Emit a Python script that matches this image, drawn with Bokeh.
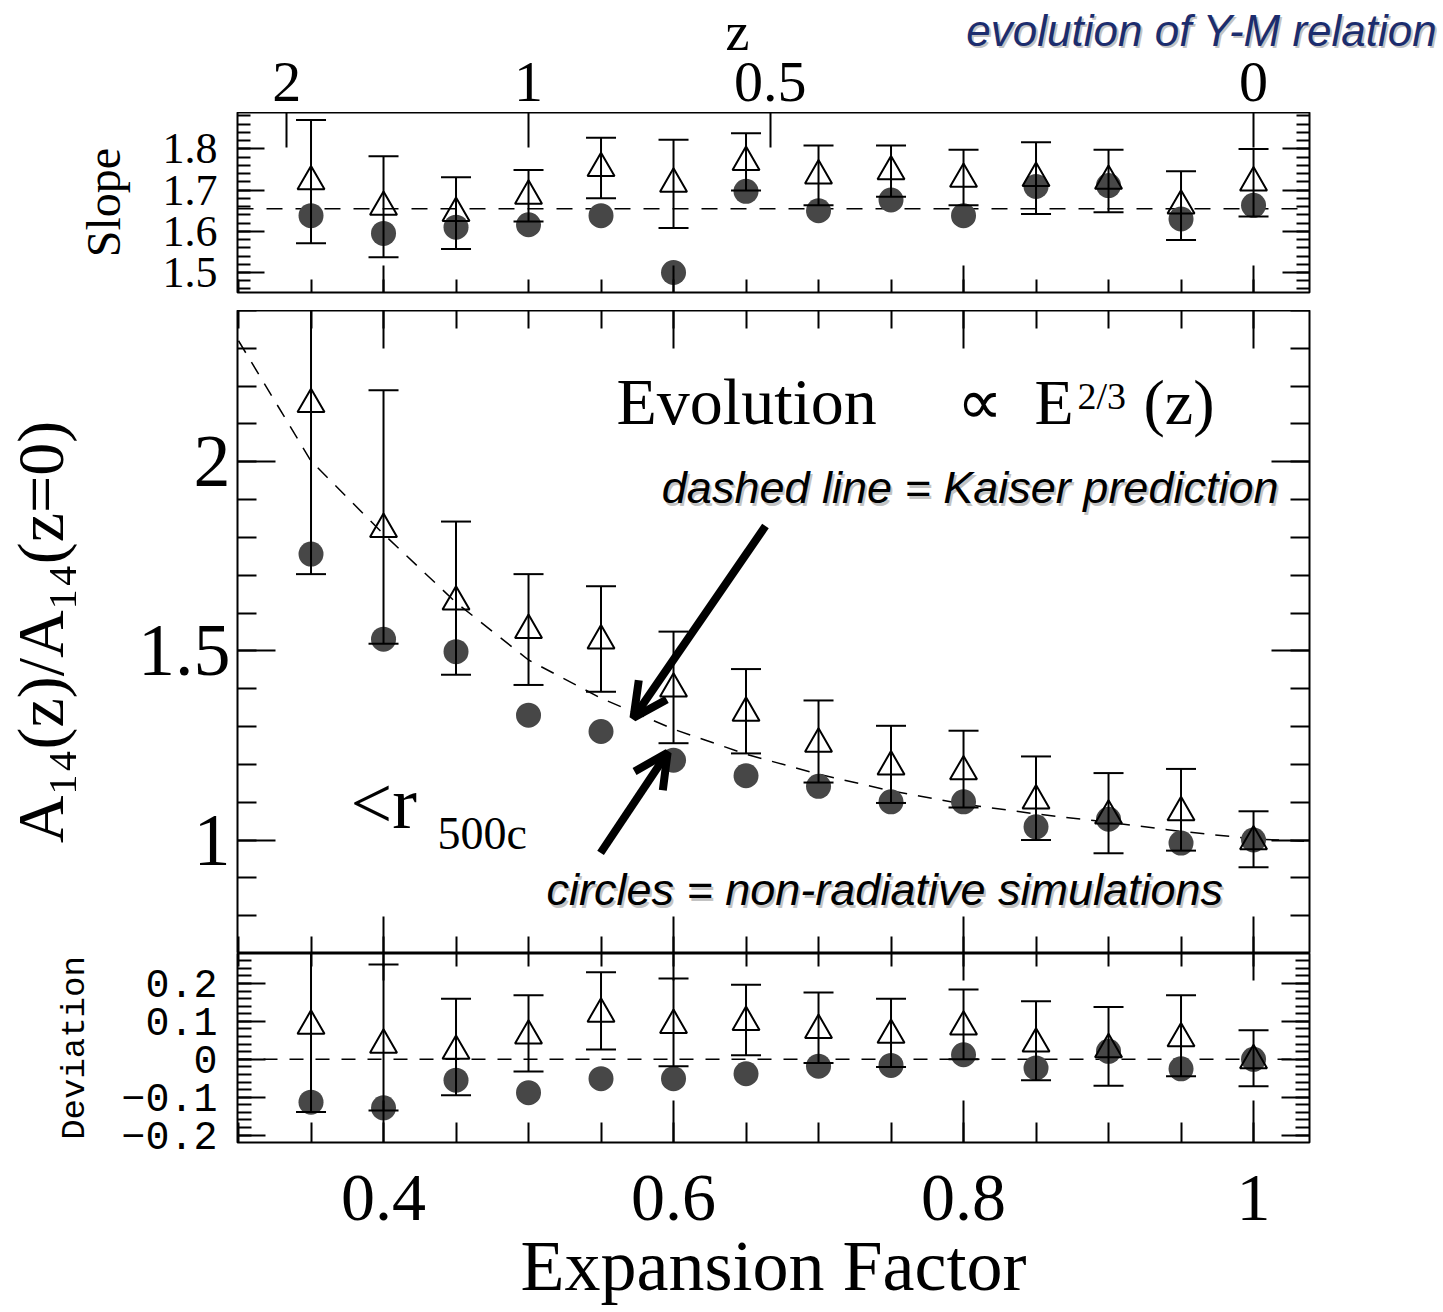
import numpy as np
from bokeh.plotting import figure
from bokeh.layouts import column, row
from bokeh.core.properties import value
from bokeh.models import (Range1d, LinearAxis, FixedTicker, CustomJSTickFormatter,
                          Label, Arrow, OpenHead, Span)
from bokeh.embed import file_html
from bokeh.resources import INLINE

# ------------------------------------------------------------------ data
a = [0.35, 0.40, 0.45, 0.50, 0.55, 0.60, 0.65, 0.70, 0.75, 0.80, 0.85, 0.90, 0.95, 1.00]

# slope panel
slope_circ = [1.638, 1.595, 1.610, 1.616, 1.638, 1.500, 1.697, 1.650, 1.676, 1.638, 1.709, 1.711, 1.630, 1.663]
slope_tri = [1.721, 1.659, 1.644, 1.686, 1.753, 1.715, 1.768, 1.735, 1.745, 1.727, 1.729, 1.722, 1.662, 1.718]
slope_tri_hi = [1.870, 1.782, 1.731, 1.749, 1.827, 1.822, 1.838, 1.808, 1.808, 1.798, 1.816, 1.798, 1.746, 1.800]
slope_tri_lo = [1.571, 1.537, 1.557, 1.624, 1.680, 1.608, 1.699, 1.663, 1.684, 1.663, 1.642, 1.646, 1.579, 1.636]
slope_ref = 1.655

# normalisation panel  A14(z)/A14(z=0)
ratio_circ = [1.756, 1.531, 1.498, 1.330, 1.287, 1.211, 1.170, 1.142, 1.101, 1.101, 1.035, 1.055, 0.992, 1.000]
ratio_tri = [2.152, 1.822, 1.630, 1.555, 1.527, 1.400, 1.336, 1.254, 1.194, 1.181, 1.104, 1.064, 1.073, 0.996]
ratio_tri_hi = [2.600, 2.189, 1.842, 1.703, 1.671, 1.551, 1.452, 1.369, 1.302, 1.289, 1.221, 1.177, 1.188, 1.076]
ratio_tri_lo = [1.703, 1.519, 1.437, 1.410, 1.392, 1.256, 1.229, 1.152, 1.098, 1.086, 1.000, 0.965, 0.972, 0.928]

# Kaiser prediction (dashed)
kaiser_a = [0.30, 0.35, 0.40, 0.45, 0.50, 0.55, 0.60, 0.65, 0.70, 0.75, 0.80, 0.85, 0.90, 0.95, 1.00, 1.04]
kaiser_ratio = [2.320, 2.002, 1.809, 1.628, 1.476, 1.375, 1.293, 1.227, 1.174, 1.130, 1.095, 1.069, 1.047, 1.023, 1.003, 0.996]

# deviation panel
dev_circ = [-0.113, -0.128, -0.055, -0.088, -0.051, -0.051, -0.038, -0.018, -0.016, 0.012, -0.023, 0.021, -0.025, 0.000]
dev_tri = [0.088, 0.038, 0.022, 0.062, 0.120, 0.090, 0.098, 0.077, 0.064, 0.086, 0.041, 0.026, 0.055, -0.003]
dev_tri_hi = [0.315, 0.250, 0.160, 0.169, 0.230, 0.213, 0.197, 0.176, 0.160, 0.184, 0.153, 0.138, 0.169, 0.077]
dev_tri_lo = [-0.139, -0.135, -0.095, -0.032, 0.026, -0.018, 0.011, -0.010, -0.020, 0.000, -0.055, -0.070, -0.045, -0.071]
dev_ref = 0.0

# ticks / labels
x_ticks = [0.4, 0.6, 0.8, 1.0]
x_labels = ["0.4", "0.6", "0.8", "1"]
x_minor = [round(0.30 + 0.05 * i, 2) for i in range(15)]
z_values = [2, 1, 0.5, 0]
z_labels = ["2", "1", "0.5", "0"]
z_ticks = [1.0 / (1.0 + z) for z in z_values]
slope_ticks = [1.5, 1.6, 1.7, 1.8]
slope_labels = ["1.5", "1.6", "1.7", "1.8"]
slope_minor = [round(1.46 + 0.02 * i, 2) for i in range(22)]
ratio_ticks = [1.0, 1.5, 2.0]
ratio_labels = ["1", "1.5", "2"]
ratio_minor = [round(0.7 + 0.1 * i, 1) for i in range(18)]
dev_ticks = [-0.2, -0.1, 0.0, 0.1, 0.2]
dev_labels = ["\u22120.2", "\u22120.1", "0", "0.1", "0.2"]
dev_minor = [round(-0.22 + 0.02 * i, 2) for i in range(26)]

# ------------------------------------------------------------------ style
SERIF = "Liberation Serif"
MONO = "Liberation Mono"
SANS = "Liberation Sans"
CIRC_COLOR = "#474747"
NAVY = "#1c2d6e"

X0, X1 = 0.2993, 1.0386          # frame range of the expansion-factor axis
PX_PER_UNIT = 1072 / (X1 - X0)
xr = Range1d(X0, X1)


def fmt(ticks, labels):
    return CustomJSTickFormatter(args=dict(t=list(ticks), l=list(labels)), code="""
        for (let i = 0; i < t.length; i++) { if (Math.abs(t[i] - tick) < 1e-6) return l[i]; }
        return "";
    """)


def add_axis(p, side, ticks, minor, maj, mnr, labels=None, font=SERIF, size="0px",
             standoff=0, title=None, title_font=SERIF, title_size="40px", title_standoff=0):
    ax = LinearAxis(ticker=FixedTicker(ticks=list(ticks), minor_ticks=list(minor)))
    ax.major_tick_in = maj
    ax.major_tick_out = 0
    ax.minor_tick_in = mnr
    ax.minor_tick_out = 0
    ax.major_tick_line_width = 2
    ax.minor_tick_line_width = 2
    ax.major_tick_line_color = "black"
    ax.minor_tick_line_color = "black"
    ax.axis_line_color = None
    if labels is not None:
        ax.formatter = fmt(ticks, labels)
        ax.major_label_text_font = font
        ax.major_label_text_font_size = size
        ax.major_label_text_color = "black"
        ax.major_label_standoff = standoff
    else:
        ax.formatter = fmt(ticks, [""] * len(ticks))
        ax.major_label_text_font_size = "0px"
        ax.major_label_standoff = 0
    if title is not None:
        ax.axis_label = title
        ax.axis_label_text_font = title_font
        ax.axis_label_text_font_size = title_size
        ax.axis_label_text_font_style = "normal"
        ax.axis_label_text_color = "black"
        ax.axis_label_standoff = title_standoff
    p.add_layout(ax, side)
    return ax


def make_fig(h, y0, y1, top, bottom):
    p = figure(width=1443, height=h, x_range=xr, y_range=Range1d(y0, y1),
               x_axis_type=None, y_axis_type=None, toolbar_location=None,
               output_backend="svg", min_border_left=237, min_border_right=134,
               min_border_top=top, min_border_bottom=bottom)
    p.outline_line_color = "black"
    p.outline_line_width = 2
    p.outline_line_alpha = 1
    p.background_fill_color = "white"
    p.border_fill_color = "white"
    return p


def draw_points(p, circ, tri, hi, lo):
    p.scatter(a, circ, marker="circle", size=25, fill_color=CIRC_COLOR,
              line_color=None)
    p.segment(x0=a, y0=lo, x1=a, y1=hi, line_color="black", line_width=2)
    p.scatter(a, hi, marker="dash", size=30, line_color="black", line_width=2)
    p.scatter(a, lo, marker="dash", size=30, line_color="black", line_width=2)
    p.scatter(a, tri, marker="triangle", size=27, fill_color=None,
              line_color="black", line_width=2)


def text(p, x, y, s, font, size, align="left", color="black", style="normal",
         shadow=False, baseline="alphabetic", lift=0.37):
    px = int(size.replace("px", ""))
    yoff = lift * px
    if shadow:
        p.add_layout(Label(x=x, y=y, text=s, text_font=font, text_font_size=size,
                           text_align=align, text_baseline=baseline,
                           text_color="#9a9a9a", text_alpha=0.6, text_font_style=style,
                           x_offset=2, y_offset=yoff - 3))
    p.add_layout(Label(x=x, y=y, text=s, text_font=font, text_font_size=size,
                       text_align=align, text_baseline=baseline,
                       text_color=color, text_font_style=style, y_offset=yoff))


# ------------------------------------------------------------------ header (z axis labels, titles)
p0 = figure(width=1443, height=112,
            x_range=Range1d(X0 - 237 / PX_PER_UNIT, X1 + 134 / PX_PER_UNIT),
            y_range=Range1d(112, 0), x_axis_type=None, y_axis_type=None,
            toolbar_location=None, output_backend="svg",
            min_border_left=0, min_border_right=0, min_border_top=0, min_border_bottom=0)
if "frame_align" in p0.properties():
    p0.frame_align = False
p0.outline_line_color = None
p0.background_fill_color = "white"
p0.border_fill_color = "white"
p0.text(x=z_ticks, y=[81] * len(z_ticks), text=z_labels, text_font=value(SERIF),
        text_font_size="58px", text_align="center", text_baseline="middle",
        text_color="black")
p0.text(x=[0.6441], y=[31], text=["z"], text_font=value(SERIF),
        text_font_size="54px", text_align="center", text_baseline="middle",
        text_color="black")
p0.text(x=[1.1283], y=[32], text=["evolution of Y-M relation"], text_font=value(SANS),
        text_font_size="44px", text_font_style="italic", text_align="right",
        text_baseline="middle", text_color="#9a9a9a", text_alpha=0.6)
p0.text(x=[1.1269], y=[30], text=["evolution of Y-M relation"], text_font=value(SANS),
        text_font_size="44px", text_font_style="italic", text_align="right",
        text_baseline="middle", text_color=NAVY)

# ------------------------------------------------------------------ slope panel
p1 = make_fig(198, 1.4515, 1.8884, 0, 18)
add_axis(p1, "left", slope_ticks, slope_minor, 27, 13, slope_labels, SERIF, "44px", 20,
         title="Slope", title_size="48px", title_standoff=30)
add_axis(p1, "right", slope_ticks, slope_minor, 27, 13)
add_axis(p1, "below", x_ticks, x_minor, 27, 13)
add_axis(p1, "above", z_ticks, [], 35, 0)
p1.add_layout(Span(location=slope_ref, dimension="width", line_color="black",
                   line_width=1.5, line_dash="16 13", level="underlay"))
draw_points(p1, slope_circ, slope_tri, slope_tri_hi, slope_tri_lo)

# ------------------------------------------------------------------ ratio panel
p2 = make_fig(643, 0.7, 2.4, 0, 0)
add_axis(p2, "left", ratio_ticks, ratio_minor, 38, 19, ratio_labels, SERIF, "74px", 7,
         title="A\u2081\u2084(z)/A\u2081\u2084(z=0)", title_size="66px", title_standoff=58)
add_axis(p2, "right", ratio_ticks, ratio_minor, 38, 19)
add_axis(p2, "above", x_ticks, x_minor, 38, 18)
add_axis(p2, "below", x_ticks, x_minor, 37, 17)
p2.line(kaiser_a, kaiser_ratio, line_color="black", line_width=1.5, line_dash="14 11")
draw_points(p2, ratio_circ, ratio_tri, ratio_tri_hi, ratio_tri_lo)

text(p2, 0.5607, 2.0946, "Evolution", SERIF, "66px")
text(p2, 0.7952, 2.0946, "\u221d", SERIF, "64px")
text(p2, 0.8490, 2.0946, "E", SERIF, "64px")
text(p2, 0.8786, 2.137, "2/3", SERIF, "38px")
text(p2, 0.9241, 2.0946, "(z)", SERIF, "64px")
text(p2, 0.3772, 1.0246, "<r", SERIF, "74px")
text(p2, 0.4372, 0.9717, "500c", SERIF, "46px")
text(p2, 1.0172, 1.888, "dashed line = Kaiser prediction", SANS, "45px", align="right",
     style="italic", shadow=True)
text(p2, 0.5124, 0.8264, "circles = non-radiative simulations", SANS, "45px",
     style="italic", shadow=True)

p2.add_layout(Arrow(x_start=0.6634, y_start=1.830, x_end=0.5724, y_end=1.323,
                    line_width=8, line_color="black",
                    end=OpenHead(size=34, line_width=8, line_color="black")))
p2.add_layout(Arrow(x_start=0.5497, y_start=0.966, x_end=0.5959, y_end=1.231,
                    line_width=8, line_color="black",
                    end=OpenHead(size=34, line_width=8, line_color="black")))

# ------------------------------------------------------------------ deviation panel
p3 = make_fig(359, -0.2195, 0.2792, 0, 170)
add_axis(p3, "left", dev_ticks, dev_minor, 28, 14, dev_labels, MONO, "40px", 20,
         title="Deviation", title_font=MONO, title_size="34px", title_standoff=24)
add_axis(p3, "right", dev_ticks, dev_minor, 28, 14)
add_axis(p3, "above", x_ticks, x_minor, 27, 13)
add_axis(p3, "below", x_ticks, x_minor, 42, 20, x_labels, SERIF, "68px", 33,
         title="Expansion Factor", title_size="72px", title_standoff=3)
p3.add_layout(Span(location=dev_ref, dimension="width", line_color="black",
                   line_width=1.5, line_dash="14 12", level="underlay"))
draw_points(p3, dev_circ, dev_tri, dev_tri_hi, dev_tri_lo)

layout = column(row(p0), column(p1, p2, p3, spacing=0), spacing=0)
open("out.html", "w").write(file_html(layout, INLINE))
